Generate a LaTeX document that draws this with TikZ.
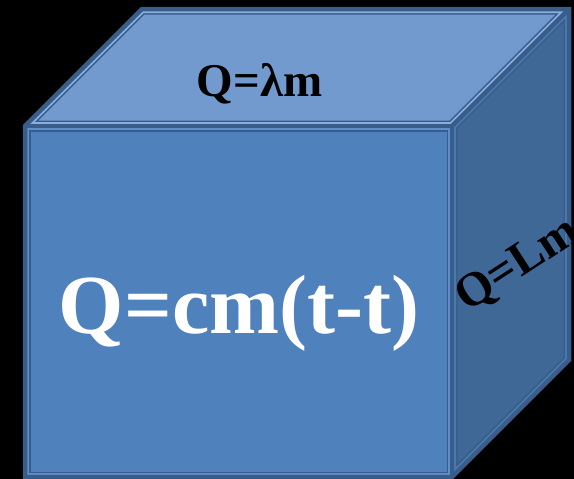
\documentclass[tikz,border=0pt]{standalone}
\usepackage{fontspec}
\setmainfont{Liberation Serif}
\definecolor{frontblue}{HTML}{4F81BD}
\definecolor{topblue}{HTML}{729ACE}
\definecolor{sideblue}{HTML}{3F6897}
\definecolor{edgeblue}{HTML}{385D8A}
\definecolor{frontline}{HTML}{5E8FCB}
\definecolor{topline}{HTML}{8BB0DD}
\definecolor{sideline}{HTML}{4C79AC}

\begin{document}
\begin{tikzpicture}[x=1pt, y=-1pt,
  edge/.style = {draw=edgeblue, line width=4.5pt, line join=miter},
  inband/.style = {draw=edgeblue, line width=11pt, line join=miter},
  label/.style = {font=\bfseries, inner sep=0pt}
]

% Canvas 574 x 479, black ground
\fill [black] (0,0) rectangle (574,479);
\clip (0,0) rectangle (574,479);

% Cube corners: front face and back offset (+117,-117)
\coordinate (ftl) at (25,126);
\coordinate (ftr) at (452,126);
\coordinate (fbr) at (452,477);
\coordinate (fbl) at (25,477);
\coordinate (btl) at (142,9);
\coordinate (btr) at (569,9);
\coordinate (bbr) at (569,360);

% Top face
\fill [topblue] (ftl) -- (btl) -- (btr) -- (ftr) -- cycle;
\begin{scope}
  \clip (ftl) -- (btl) -- (btr) -- (ftr) -- cycle;
  \draw [inband] (ftl) -- (btl) -- (btr) -- (ftr) -- cycle;
  \draw [topline, line width=8pt, line join=miter] (ftl) -- (btl) -- (btr) -- (ftr) -- cycle;
\end{scope}

% Right face
\fill [sideblue] (ftr) -- (btr) -- (bbr) -- (fbr) -- cycle;
\begin{scope}
  \clip (ftr) -- (btr) -- (bbr) -- (fbr) -- cycle;
  \draw [inband] (ftr) -- (btr) -- (bbr) -- (fbr) -- cycle;
  \draw [sideline, line width=8pt, line join=miter] (ftr) -- (btr) -- (bbr) -- (fbr) -- cycle;
\end{scope}

% Front face
\fill [frontblue] (ftl) -- (ftr) -- (fbr) -- (fbl) -- cycle;
\begin{scope}
  \clip (ftl) -- (ftr) -- (fbr) -- (fbl) -- cycle;
  \draw [inband] (ftl) -- (ftr) -- (fbr) -- (fbl) -- cycle;
  \draw [frontline, line width=8pt, line join=miter] (ftl) -- (ftr) -- (fbr) -- (fbl) -- cycle;
\end{scope}

% Outer edges
\draw [edge] (ftl) -- (btl) -- (btr) -- (bbr) -- (fbr) -- (fbl) -- cycle;
\draw [edge] (ftl) -- (ftr) -- (fbr);
\draw [edge] (ftr) -- (btr);

% Labels
\node [label, font=\fontsize{47}{47}\bfseries, anchor=base] (toplabel) at (259.5,96) {Q=λm};
\node [label, font=\fontsize{84}{84}\bfseries, text=white, anchor=base] (frontlabel) at (239,333) {Q=cm(t-t)};
\node [label, font=\fontsize{48}{48}\bfseries, anchor=base west, rotate=33] (sidelabel) at (467,313) {Q=Lm};

\end{tikzpicture}
\end{document}
